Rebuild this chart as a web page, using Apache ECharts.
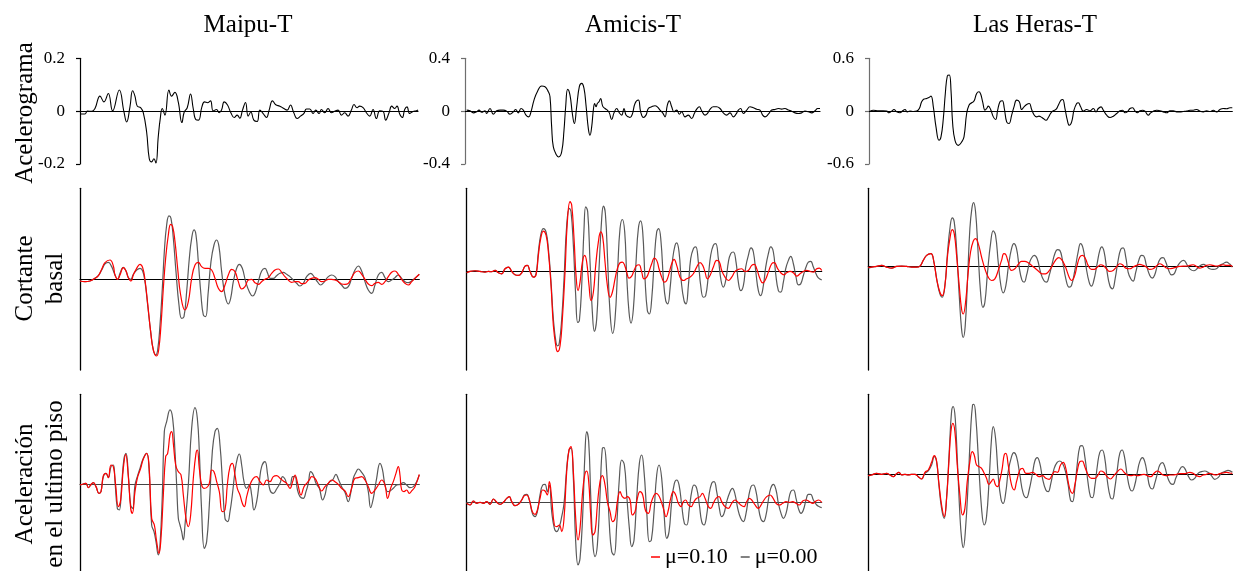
<!DOCTYPE html>
<html>
<head>
<meta charset="utf-8">
<script src="https://cdn.jsdelivr.net/npm/echarts@6/dist/echarts.min.js"></script>
<style>html,body{margin:0;padding:0;background:#fff}#c{width:1233px;height:571px}</style>
</head>
<body>
<div id="c"></div>
<script>
// ---------- DATA (time in arbitrary units) ----------
const stations = ['Maipu-T', 'Amicis-T', 'Las Heras-T'];
const rowNames = ['Acelerograma', 'Cortante\nbasal', 'Aceleración\nen el ultimo piso'];
const seriesNames = ['μ=0.10', 'μ=0.00'];
const accTicks = [0.2, 0.4, 0.6]; // tick label step of each accelerogram panel

// Row 1: accelerograms (g)
const maipuAcc = [[24.3,-0.011],[25.5,-0.011],[26.2,0],[27.5,-0.001],[28.5,0.010],[30.0,0.057],[31.2,0.035],[32.5,0.067],[33.8,0.001],[35.8,0.080],[37.2,-0.003],[38.0,-0.041],[39.0,0.016],[39.8,0.077],[40.5,0.057],[41.2,0.019],[42.2,0.013],[43.0,-0.006],[44.0,-0.078],[44.8,-0.180],[45.5,-0.192],[46.2,-0.180],[46.8,-0.196],[47.5,-0.097],[48.1,-0.028],[48.7,0.010],[49.5,-0.015],[50.7,0.080],[51.5,0.057],[52.5,0.071],[53.5,0.035],[54.6,-0.043],[55.3,-0.003],[56.2,0.013],[57.2,0.065],[58.0,0.010],[58.8,-0.032],[59.6,-0.034],[60.6,0.016],[61.4,0.035],[62.4,0.032],[63.2,0.039],[64.0,0.001],[65.0,0.006],[65.8,-0.006],[66.5,0.004],[67.3,0.035],[68.3,0.023],[69.3,-0.006],[70.3,-0.024],[71.2,-0.015],[72.0,-0.027],[72.8,0.004],[73.7,0.033],[74.5,-0.019],[75.3,-0.003],[76.2,-0.034],[77.2,-0.039],[78.0,0.004],[79.0,-0.009],[80.0,-0.024],[80.8,0.004],[81.8,0.039],[82.8,0.024],[84.0,0.019],[85.2,0.010],[86.2,0.004],[87.2,0.023],[88.2,-0.006],[89.2,-0.028],[90.2,-0.019],[91.2,-0.009],[92.0,0.008],[93.0,0.008],[94.0,-0.009],[94.8,0.004],[95.8,-0.009],[96.5,0.006],[97.5,-0.006],[98.5,0.010],[99.5,-0.006],[100.5,0],[101.5,0.004],[102.5,-0.015],[103.5,-0.006],[104.5,-0.019],[105.5,0.004],[106.3,0.025],[107.2,0.013],[108.0,0.019],[109.0,0.013],[110.0,-0.006],[111.0,-0.019],[112.0,0.006],[113.0,-0.028],[114.0,0.001],[115.0,-0.001],[115.8,-0.034],[116.8,-0.006],[117.6,0.019],[118.5,0.010],[119.2,0.019],[120.0,-0.011],[120.8,-0.024],[121.5,0.006],[122.2,0.016],[123.0,-0.009],[124.0,-0.001],[125.0,0.001],[125.5,0.005]];
const amicisAcc = [[14.0,0.008],[15.0,0.003],[16.0,-0.013],[17.0,-0.005],[17.7,0.008],[18.5,-0.008],[19.5,0.003],[20.0,-0.018],[21.0,0.020],[22.0,-0.023],[23.0,0.003],[24.0,0.008],[25.0,0.008],[26.0,0],[27.0,-0.023],[28.0,-0.005],[28.7,0.013],[29.5,-0.013],[30.3,0.020],[31.0,0.008],[31.8,-0.030],[32.6,-0.043],[33.3,-0.005],[34.2,0.084],[35.2,0.147],[36.5,0.190],[37.5,0.185],[38.5,0.147],[39.0,0.109],[39.5,-0.119],[40.0,-0.271],[41.0,-0.334],[41.6,-0.347],[42.5,-0.309],[43.2,-0.144],[43.7,0.033],[44.3,0.165],[45.0,0.122],[45.7,-0.018],[46.3,-0.094],[47.0,0.033],[47.8,0.185],[48.5,0.210],[49.2,0.172],[49.8,0.046],[50.5,-0.132],[51.0,-0.182],[51.5,-0.119],[52.0,0.008],[52.4,0.058],[52.8,0.033],[53.2,0.058],[53.7,0.071],[54.2,0.096],[54.8,0.038],[55.5,0.020],[56.2,0.008],[56.8,-0.013],[57.5,-0.063],[58.2,-0.013],[59.0,0.020],[59.8,-0.013],[60.5,-0.030],[61.2,0.020],[61.8,-0.030],[62.5,-0.043],[63.0,-0.048],[63.7,-0.023],[64.5,0.058],[65.5,0.084],[66.2,-0.005],[67.0,-0.048],[67.8,-0.030],[68.5,0.020],[69.5,0.033],[70.5,0.041],[71.2,0.033],[72.0,0.008],[72.8,-0.013],[73.5,-0.043],[74.2,0.046],[74.8,0.078],[75.5,0.033],[76.2,-0.005],[77.0,0.008],[77.8,-0.023],[78.5,-0.005],[79.5,-0.043],[80.5,-0.030],[81.5,-0.056],[82.3,-0.018],[83.0,0.015],[83.8,0.033],[84.5,0.003],[85.5,-0.030],[86.2,-0.018],[87.0,0.013],[88.0,0.033],[89.0,0.033],[90.0,0.020],[91.0,-0.013],[92.0,-0.030],[93.0,-0.013],[94.0,-0.043],[94.8,-0.023],[95.5,0.008],[96.2,0.020],[97.0,-0.018],[98.0,0.008],[99.0,0.033],[100.0,0.025],[101.0,0.015],[102.0,0.008],[102.8,-0.030],[103.5,-0.043],[104.5,-0.023],[105.5,0.008],[106.5,0.013],[107.5,0.020],[108.5,0.015],[109.5,0.020],[110.5,0.008],[111.5,0],[112.5,-0.013],[113.5,-0.018],[114.5,-0.013],[115.5,0],[116.5,-0.005],[117.5,-0.013],[118.5,0.003],[119.3,0.020],[120.0,0.020]];
const herasAcc = [[15.0,0],[16.0,0.011],[17.5,0.004],[19.0,0.004],[20.0,0],[20.7,-0.019],[21.5,0],[22.2,0.019],[23.0,-0.008],[24.0,-0.019],[24.8,0.004],[25.5,0.019],[26.2,-0.008],[27.0,0],[28.0,-0.004],[29.0,0],[29.8,0.030],[30.5,0.106],[31.2,0.137],[32.0,0.144],[32.7,0.156],[33.3,0.171],[34.0,0.049],[34.8,-0.179],[35.7,-0.331],[36.3,-0.293],[37.0,-0.084],[37.6,0.201],[38.2,0.399],[38.8,0.410],[39.3,0.239],[39.8,-0.141],[40.5,-0.331],[41.5,-0.388],[42.5,-0.350],[43.2,-0.293],[44.0,-0.027],[44.7,0.068],[45.5,0.095],[46.2,0.114],[47.0,0.201],[47.7,0.220],[48.2,0.194],[48.8,0.106],[49.5,0.011],[50.0,0.030],[50.5,0.057],[51.2,0.019],[52.0,-0.065],[52.7,-0.095],[53.3,0.011],[54.0,0.106],[54.7,0.118],[55.3,0.030],[56.0,-0.122],[56.7,-0.141],[57.5,-0.046],[58.2,0.049],[59.0,0.125],[59.8,0.106],[60.5,0.019],[61.2,0.049],[62.0,0.076],[62.8,0.087],[63.5,0.019],[64.3,-0.046],[65.0,-0.065],[65.7,-0.057],[66.3,-0.065],[67.0,-0.084],[67.8,-0.103],[68.5,-0.072],[69.3,-0.019],[70.0,0.004],[70.8,0.019],[71.5,0.068],[72.3,0.125],[72.8,0.133],[73.5,0.030],[74.2,-0.103],[74.8,-0.160],[75.5,-0.122],[76.2,0.011],[77.0,0.087],[77.5,0.095],[78.2,0.049],[79.0,0],[80.0,0.019],[81.0,0.004],[82.0,0.030],[82.8,-0.008],[83.5,0.030],[84.3,0.049],[85.0,0.011],[86.0,-0.046],[87.0,-0.072],[88.0,-0.057],[89.0,-0.027],[90.0,0.004],[90.8,0.011],[91.5,-0.019],[92.2,-0.008],[93.0,0.030],[93.8,0.038],[94.5,0.004],[95.2,-0.019],[96.0,0.004],[96.8,0.011],[97.5,0],[98.5,-0.046],[99.2,-0.019],[100.0,0],[101.0,0.011],[102.0,0.004],[103.0,-0.008],[104.0,-0.019],[105.0,0.004],[106.0,0.004],[107.0,-0.008],[108.0,-0.008],[109.0,-0.004],[110.0,0],[111.0,0.011],[112.0,0.011],[113.0,0.019],[114.0,0],[115.0,-0.008],[116.0,0.004],[117.0,-0.004],[118.0,0.011],[119.0,-0.008],[120.0,0.019],[121.0,0.030],[122.0,0.027],[123.0,0.038],[123.7,0.038]];

// Row 2: base shear (arbitrary units)  -- *0 = μ=0.00, *1 = μ=0.10
const maipuShear0 = [[24.0,-5],[25.5,-7],[27.0,-5],[28.5,3],[29.5,11],[30.5,28],[31.5,46],[32.5,51],[33.5,38],[34.5,13],[35.3,0],[36.0,18],[37.0,36],[37.8,25],[38.5,5],[39.2,0],[40.0,15],[41.0,28],[42.0,33],[42.8,25],[43.5,-7],[44.3,-77],[45.2,-157],[46.0,-212],[46.7,-227],[47.3,-212],[48.0,-137],[48.7,-27],[49.3,83],[50.0,163],[50.7,190],[51.3,183],[52.0,123],[52.8,23],[53.7,-77],[54.5,-117],[55.2,-112],[56.0,-37],[56.8,63],[57.5,123],[58.2,148],[58.8,133],[59.5,53],[60.3,-47],[61.0,-107],[61.7,-112],[62.4,-47],[63.3,53],[64.2,103],[65.0,118],[65.7,98],[66.5,23],[67.5,-47],[68.5,-74],[69.2,-57],[70.0,-7],[71.0,33],[71.8,45],[72.7,33],[73.7,-7],[74.8,-37],[75.8,-50],[76.5,-42],[77.5,-7],[78.5,25],[79.5,33],[80.3,18],[81.0,3],[82.0,3],[83.0,11],[84.0,18],[85.0,21],[86.0,15],[87.0,8],[88.0,-2],[89.0,-12],[90.0,-20],[91.0,-12],[92.0,8],[93.2,18],[94.2,8],[95.2,-7],[96.2,-17],[97.2,-9],[98.2,5],[99.5,13],[100.5,8],[101.5,-7],[102.5,-17],[103.5,-27],[104.5,-22],[105.5,3],[106.5,28],[107.5,40],[108.5,25],[109.5,-7],[110.5,-32],[111.5,-42],[112.5,-17],[113.5,13],[114.5,21],[115.5,5],[116.5,-7],[117.5,-2],[118.5,5],[119.5,13],[120.5,3],[121.5,-7],[122.5,-10],[123.5,-5],[124.5,3],[125.8,15]];
const maipuShear1 = [[24.0,-5],[25.5,-7],[27.0,-5],[28.5,3],[29.5,11],[30.5,30],[31.5,50],[33.0,58],[34.0,40],[34.5,13],[35.3,0],[36.0,13],[37.0,35],[37.8,25],[38.5,5],[39.3,-5],[40.0,13],[41.0,33],[42.0,45],[42.8,35],[43.5,-2],[44.3,-72],[45.2,-157],[46.0,-212],[47.0,-230],[47.6,-212],[48.3,-137],[49.0,-27],[49.7,63],[50.5,133],[51.2,165],[51.8,158],[52.5,113],[53.3,33],[54.2,-47],[55.5,-92],[56.5,-67],[57.5,3],[58.5,43],[59.5,51],[60.5,38],[61.5,33],[62.5,33],[63.5,28],[64.5,3],[65.5,-27],[66.5,-37],[67.5,-17],[68.5,13],[69.5,30],[70.5,23],[71.5,-7],[72.5,-29],[73.5,-22],[74.5,-2],[75.5,0],[76.5,-10],[77.5,-15],[78.5,-7],[79.5,0],[80.5,5],[81.5,18],[82.5,28],[83.5,31],[84.5,21],[85.5,8],[86.5,-2],[87.5,-9],[88.5,-7],[89.5,-7],[90.5,-13],[91.5,-12],[92.5,-2],[93.5,3],[94.5,5],[95.5,0],[96.5,-7],[97.5,-5],[98.5,0],[99.5,0],[100.5,-2],[101.5,-7],[102.5,-14],[103.5,-15],[104.5,-12],[105.5,5],[106.5,21],[107.5,25],[108.5,15],[109.5,0],[110.5,-14],[111.5,-19],[112.5,-12],[113.5,-9],[114.5,-15],[115.5,-7],[116.5,8],[117.5,21],[118.5,25],[119.5,15],[120.5,0],[121.5,-12],[122.5,-17],[123.5,-7],[124.5,3],[125.8,15]];
const amicisShear0 = [[14.0,-4],[15.0,0],[16.5,2],[18.0,0],[19.5,-2],[20.5,0],[21.5,-1],[22.5,3],[23.5,-4],[24.5,-7],[25.5,8],[26.5,13],[27.5,0],[28.5,-10],[29.5,-12],[30.5,-4],[31.5,16],[32.2,18],[33.0,0],[34.0,-17],[34.8,-7],[35.5,58],[36.2,108],[37.0,128],[37.8,118],[38.5,68],[39.3,-32],[40.0,-142],[40.8,-212],[41.3,-222],[41.8,-212],[42.5,-142],[43.2,-22],[44.0,138],[44.8,188],[45.3,178],[46.0,78],[46.7,-72],[47.3,-152],[47.8,-147],[48.5,-42],[49.2,128],[49.7,193],[50.3,178],[51.0,28],[51.7,-122],[52.3,-179],[53.0,-142],[53.7,8],[54.5,158],[55.0,195],[55.6,173],[56.3,28],[57.0,-122],[57.8,-185],[58.5,-142],[59.3,8],[60.0,128],[60.7,155],[61.4,118],[62.0,-12],[62.7,-122],[63.3,-154],[64.0,-112],[64.8,28],[65.5,128],[66.2,151],[66.8,118],[67.5,-22],[68.2,-117],[68.8,-127],[69.5,-82],[70.3,38],[71.0,118],[71.6,128],[72.3,88],[73.0,-22],[73.7,-87],[74.3,-97],[75.0,-52],[75.8,38],[76.5,78],[77.0,85],[77.7,58],[78.4,-32],[79.2,-87],[79.8,-97],[80.5,-42],[81.2,38],[82.0,68],[82.7,73],[83.5,28],[84.2,-42],[85.0,-77],[85.7,-72],[86.5,-12],[87.2,48],[88.0,78],[88.7,83],[89.5,38],[90.3,-27],[91.0,-47],[91.8,-22],[92.5,28],[93.2,53],[94.0,58],[94.8,28],[95.5,-32],[96.2,-57],[97.0,-42],[97.7,13],[98.5,48],[99.3,70],[100.0,58],[100.8,-7],[101.5,-57],[102.2,-72],[103.0,-42],[103.7,13],[104.5,53],[105.2,73],[106.0,58],[106.7,-7],[107.5,-57],[108.2,-62],[109.0,-32],[109.7,8],[110.5,33],[111.2,45],[112.0,23],[112.8,-17],[113.5,-40],[114.2,-37],[115.0,-12],[115.8,13],[116.5,28],[117.2,30],[118.0,13],[118.8,-7],[119.5,-19],[120.5,-25]];
const amicisShear1 = [[14.0,-4],[15.0,0],[16.5,2],[18.0,0],[19.5,-2],[20.5,0],[21.5,-1],[22.5,3],[23.5,-4],[24.5,-7],[25.5,8],[26.5,13],[27.5,0],[28.5,-10],[29.5,-12],[30.5,-4],[31.5,16],[32.2,18],[33.0,0],[34.0,-17],[34.8,-10],[35.5,48],[36.2,98],[37.0,120],[37.8,108],[38.5,58],[39.3,-42],[40.0,-162],[40.8,-227],[41.3,-239],[42.0,-222],[42.7,-142],[43.5,-2],[44.2,148],[45.0,208],[45.5,198],[46.2,98],[46.8,-12],[47.4,-57],[48.0,-32],[48.7,28],[49.4,48],[50.0,28],[50.7,-42],[51.3,-87],[52.0,-62],[52.7,18],[53.5,88],[54.2,118],[54.8,103],[55.5,28],[56.2,-42],[57.0,-77],[57.7,-62],[58.5,-22],[59.2,8],[60.0,26],[60.7,28],[61.4,18],[62.0,-2],[62.7,-20],[63.5,-14],[64.2,3],[65.0,18],[65.7,20],[66.5,-2],[67.2,-22],[68.0,-17],[68.8,3],[69.5,23],[70.3,40],[71.0,33],[71.7,8],[72.5,-17],[73.3,-32],[74.0,-27],[74.8,-2],[75.5,23],[76.2,36],[77.0,18],[78.0,-17],[79.0,-27],[80.0,-22],[81.0,-17],[82.0,-7],[83.0,13],[84.0,26],[84.8,18],[85.5,-2],[86.2,-22],[87.0,-12],[88.0,13],[89.0,33],[89.8,28],[90.5,3],[91.5,-17],[92.5,-27],[93.5,-17],[94.5,0],[95.5,6],[96.5,8],[97.5,0],[98.5,3],[99.5,18],[100.3,21],[101.0,8],[102.0,-22],[102.8,-34],[103.5,-27],[104.5,-2],[105.5,23],[106.3,26],[107.2,10],[108.2,-4],[109.2,-10],[110.0,-4],[111.0,0],[112.0,-4],[113.0,-14],[114.0,-7],[115.0,0],[116.0,3],[117.0,0],[118.0,-2],[119.0,8],[119.8,10],[120.5,3]];
const herasShear0 = [[14.5,-4],[15.5,-1],[17.0,1],[18.5,4],[20.0,-1],[21.5,-4],[23.0,1],[24.5,2],[26.0,1],[27.5,-1],[29.0,-1],[30.0,2],[31.0,19],[32.0,34],[33.3,39],[34.2,14],[35.2,-46],[36.0,-81],[36.7,-91],[37.5,-56],[38.3,44],[39.0,114],[39.7,146],[40.3,134],[41.0,54],[41.8,-86],[42.5,-186],[43.0,-211],[43.6,-176],[44.3,-36],[45.0,114],[45.6,174],[46.1,191],[46.7,164],[47.4,54],[48.2,-76],[48.9,-121],[49.5,-106],[50.3,-16],[51.2,69],[52.0,107],[52.7,94],[53.5,14],[54.3,-56],[55.0,-78],[55.8,-56],[56.6,4],[57.5,54],[58.2,69],[59.0,54],[59.8,-1],[60.6,-39],[61.3,-46],[62.0,-26],[62.8,9],[63.5,26],[64.3,34],[65.2,24],[66.2,-16],[67.2,-41],[68.0,-46],[68.8,-26],[69.7,9],[70.5,39],[71.3,51],[72.0,49],[72.8,19],[73.8,-36],[74.8,-61],[75.5,-56],[76.5,-11],[77.5,44],[78.2,69],[79.0,54],[79.8,4],[80.8,-46],[81.5,-58],[82.2,-41],[83.2,9],[84.0,49],[84.6,59],[85.3,44],[86.2,-16],[87.0,-56],[87.8,-66],[88.6,-36],[89.5,19],[90.3,52],[91.0,56],[91.8,29],[92.5,-16],[93.3,-36],[94.0,-43],[94.8,-16],[95.7,19],[96.5,34],[97.2,32],[98.0,4],[99.0,-26],[99.8,-34],[100.5,-24],[101.3,4],[102.2,24],[103.0,27],[103.8,14],[104.7,-11],[105.5,-24],[106.3,-21],[107.2,-1],[108.2,14],[109.2,19],[110.2,6],[111.2,-8],[112.2,-12],[113.2,-6],[114.2,4],[115.2,7],[116.0,2],[117.0,-6],[118.0,-8],[119.0,-6],[120.0,4],[121.0,9],[122.0,14],[123.0,8],[123.8,-1]];
const herasShear1 = [[14.5,-2],[15.5,-1],[17.0,1],[18.5,4],[20.0,-1],[21.5,-4],[23.0,1],[24.5,2],[26.0,1],[27.5,-1],[29.0,-1],[30.0,2],[31.0,19],[32.0,34],[33.3,39],[34.2,14],[35.0,-36],[36.0,-76],[36.7,-86],[37.5,-56],[38.3,34],[39.0,84],[39.7,111],[40.3,99],[41.0,34],[41.8,-56],[42.5,-126],[43.0,-141],[43.7,-106],[44.5,-16],[45.2,44],[46.0,76],[46.7,84],[47.5,69],[48.5,29],[49.5,-6],[50.5,-31],[51.5,-41],[52.5,-36],[53.5,-11],[54.5,19],[55.2,39],[55.8,36],[56.5,14],[57.5,-11],[58.5,-6],[59.5,7],[60.5,16],[61.5,16],[62.5,12],[63.5,4],[64.5,-4],[65.7,-14],[66.7,-21],[67.7,-21],[68.7,-13],[69.7,2],[70.7,19],[71.7,27],[72.7,19],[73.7,-1],[74.8,-31],[75.5,-41],[76.3,-31],[77.2,4],[78.0,29],[78.8,34],[79.7,24],[80.5,4],[81.5,-8],[82.3,-8],[83.3,-1],[84.3,6],[85.0,4],[86.0,-6],[87.0,-14],[88.0,-11],[89.0,-1],[90.0,9],[90.8,6],[91.8,-4],[93.0,-6],[94.0,-1],[95.0,4],[96.0,7],[97.0,4],[98.0,-1],[99.0,-8],[100.0,-6],[101.0,2],[102.0,9],[103.0,4],[104.0,-4],[105.0,-6],[106.0,-4],[107.0,-1],[108.0,1],[109.0,2],[110.0,2],[111.0,4],[112.0,6],[113.0,1],[114.0,-4],[115.0,-1],[116.0,4],[117.0,6],[118.0,4],[119.0,2],[120.0,4],[121.0,6],[122.0,4],[123.0,4],[123.8,1]];

// Row 3: top floor acceleration (arbitrary units)
const maipuTop0 = [[24.0,-2],[25.0,1],[25.8,3],[26.5,-10],[27.2,-2],[28.0,5],[28.8,-7],[29.7,-27],[30.3,-22],[31.0,23],[31.8,33],[32.5,20],[33.3,53],[34.0,58],[34.5,8],[35.2,-72],[35.8,-77],[36.5,-2],[37.2,78],[37.8,93],[38.5,28],[39.2,-62],[39.8,-72],[40.5,-2],[41.2,23],[42.0,48],[43.0,78],[44.0,93],[44.7,48],[45.5,-122],[46.2,-142],[46.8,-172],[47.5,-212],[48.0,-182],[48.7,-32],[49.3,158],[50.0,188],[51.0,223],[51.8,198],[52.5,98],[53.0,-2],[53.5,-102],[54.0,-122],[54.5,-142],[55.0,-167],[55.5,-122],[56.5,-2],[57.5,168],[58.5,230],[59.2,198],[59.8,98],[60.5,-82],[61.3,-192],[62.0,-172],[62.8,-62],[63.7,98],[64.5,158],[65.2,168],[66.0,118],[66.8,-2],[67.5,-102],[68.3,-112],[69.0,-82],[69.7,-32],[70.5,38],[71.2,78],[71.8,91],[72.5,58],[73.2,8],[74.0,-12],[74.8,-2],[75.5,-32],[76.2,-77],[77.0,-52],[77.8,8],[78.5,53],[79.5,68],[80.3,28],[81.0,-17],[82.0,-27],[83.0,-14],[84.0,3],[84.8,23],[85.5,16],[86.3,-2],[87.0,-2],[87.8,23],[88.5,23],[89.2,-14],[90.0,-37],[91.0,-42],[91.8,-22],[92.5,3],[93.2,38],[94.0,28],[94.8,3],[95.8,-12],[96.8,-47],[97.5,-32],[98.2,-2],[99.0,8],[99.8,13],[100.8,30],[101.5,16],[102.5,-7],[103.5,-24],[104.5,-52],[105.2,-27],[106.0,18],[106.8,36],[107.5,46],[108.5,36],[109.5,20],[110.5,-22],[111.2,-70],[112.0,-42],[113.0,18],[114.0,63],[114.7,46],[115.5,-2],[116.3,-22],[117.0,-20],[118.0,-12],[119.0,-2],[120.0,0],[121.0,5],[122.0,-2],[123.0,-10],[124.0,-7],[125.0,8],[125.8,28]];
const maipuTop1 = [[24.0,-2],[25.0,1],[25.8,3],[26.5,-10],[27.2,-2],[28.0,5],[28.8,-7],[29.7,-27],[30.3,-22],[31.0,26],[31.8,33],[32.5,20],[33.3,58],[34.0,53],[34.7,-2],[35.5,-67],[36.2,-47],[37.0,48],[37.7,90],[38.5,23],[39.2,-72],[39.7,-87],[40.5,-22],[41.2,18],[42.2,48],[43.0,76],[44.0,93],[44.7,58],[45.5,-102],[46.3,-122],[47.0,-172],[47.7,-207],[48.3,-162],[49.0,-32],[49.7,83],[50.3,93],[51.0,148],[51.5,158],[52.0,123],[52.7,58],[53.5,38],[54.3,28],[55.0,-32],[55.8,-102],[56.5,-127],[57.2,-92],[58.0,18],[58.8,93],[59.2,103],[59.8,48],[60.5,-2],[61.2,-12],[62.0,-10],[62.8,3],[63.5,43],[64.2,38],[65.0,8],[65.8,-22],[66.7,-82],[67.5,-77],[68.2,-2],[69.0,53],[69.7,63],[70.5,28],[71.2,-12],[72.0,-32],[72.7,-57],[73.3,-67],[74.0,-37],[75.0,-2],[76.0,18],[77.0,23],[78.0,8],[79.0,-2],[80.0,13],[81.0,8],[82.0,23],[83.0,26],[84.0,18],[85.0,10],[86.0,3],[87.0,-12],[87.8,8],[88.5,28],[89.3,3],[90.3,-32],[91.2,-7],[92.0,3],[92.8,13],[93.5,23],[94.5,18],[95.5,-2],[96.5,-20],[97.5,-7],[98.5,3],[99.5,13],[100.5,8],[101.5,0],[102.5,-12],[103.5,-20],[104.5,-37],[105.5,-12],[106.5,18],[107.5,20],[108.5,23],[109.5,13],[110.5,-7],[111.5,-27],[112.5,-17],[113.5,-2],[114.5,13],[115.5,-2],[116.3,-42],[117.2,-12],[118.0,8],[118.8,33],[119.5,53],[120.0,28],[120.5,-17],[121.2,-22],[122.0,-17],[122.8,-27],[123.5,-20],[124.5,-7],[125.8,30]];
const amicisTop0 = [[14.0,-3],[15.0,-8],[16.0,4],[17.0,-3],[18.0,0],[19.0,-3],[20.0,2],[21.0,-6],[22.0,10],[23.0,0],[24.0,-6],[25.0,0],[26.0,12],[26.8,17],[27.5,2],[28.5,-10],[29.5,-6],[30.5,7],[31.3,22],[32.0,24],[32.8,7],[33.7,-33],[34.5,-43],[35.2,-28],[36.0,22],[36.8,52],[37.5,54],[38.2,32],[38.8,52],[39.5,-28],[40.3,-78],[41.0,-88],[41.8,-73],[42.5,-43],[43.2,-3],[44.0,102],[44.7,157],[45.3,162],[46.0,72],[46.7,-118],[47.4,-188],[48.0,-168],[48.8,-38],[49.5,152],[50.0,212],[50.6,182],[51.2,22],[51.8,-118],[52.5,-163],[53.2,-128],[54.0,22],[54.7,162],[55.2,164],[56.0,92],[56.8,-68],[57.5,-148],[58.2,-158],[59.0,-68],[59.8,72],[60.5,127],[61.3,112],[62.0,22],[62.8,-78],[63.5,-133],[64.2,-113],[65.0,12],[65.8,117],[66.5,142],[67.2,92],[68.0,-28],[68.8,-118],[69.4,-113],[70.2,-28],[71.0,82],[71.7,112],[72.5,72],[73.3,-48],[74.0,-108],[74.7,-88],[75.5,2],[76.3,57],[77.0,67],[77.7,52],[78.5,-8],[79.3,-63],[80.0,-68],[80.8,-18],[81.5,32],[82.2,52],[83.0,42],[83.8,-8],[84.5,-58],[85.2,-68],[86.0,-38],[86.7,22],[87.5,57],[88.2,62],[89.0,32],[89.8,-18],[90.5,-43],[91.2,-33],[92.0,2],[93.0,32],[93.7,42],[94.5,24],[95.3,-18],[96.2,-48],[97.0,-58],[97.8,-33],[98.5,12],[99.3,47],[100.0,52],[100.8,32],[101.5,-13],[102.2,-48],[103.0,-58],[103.8,-38],[104.5,7],[105.2,42],[106.0,54],[106.8,37],[107.5,-3],[108.3,-33],[109.0,-48],[109.8,-33],[110.5,2],[111.2,32],[112.0,37],[112.8,12],[113.5,-18],[114.3,-33],[115.0,-23],[115.8,7],[116.5,24],[117.2,24],[118.0,7],[119.0,-8],[119.8,-13],[120.5,-16]];
const amicisTop1 = [[14.0,-3],[15.0,-8],[16.0,4],[17.0,-3],[18.0,0],[19.0,-3],[20.0,2],[21.0,-6],[22.0,10],[23.0,0],[24.0,-6],[25.0,0],[26.0,12],[26.8,17],[27.5,2],[28.5,-10],[29.5,-6],[30.5,7],[31.3,20],[32.0,22],[32.8,7],[33.7,-28],[34.5,-36],[35.2,-23],[36.0,12],[36.8,37],[37.5,34],[38.2,22],[38.8,62],[39.5,12],[40.3,-68],[41.0,-73],[41.8,-68],[42.5,-88],[43.2,-48],[44.0,92],[44.7,157],[45.3,167],[46.0,92],[46.7,-48],[47.4,-113],[48.0,-78],[48.7,22],[49.4,82],[50.0,94],[50.6,62],[51.2,-38],[51.8,-98],[52.5,-88],[53.2,-8],[54.0,62],[54.7,80],[55.5,52],[56.2,2],[57.0,-28],[57.8,-58],[58.5,-48],[59.2,2],[60.0,32],[60.7,17],[61.5,12],[62.2,17],[63.0,7],[63.7,-38],[64.5,-28],[65.2,12],[66.0,32],[66.8,22],[67.6,-23],[68.5,-33],[69.3,-3],[70.0,17],[70.8,27],[71.5,22],[72.2,7],[73.0,-18],[73.8,-43],[74.5,-23],[75.2,12],[76.0,32],[76.7,22],[77.5,-3],[78.3,-13],[79.0,2],[79.7,7],[80.5,-8],[81.3,-13],[82.2,2],[83.0,12],[84.0,17],[84.7,27],[85.5,12],[86.5,-13],[87.2,-18],[88.0,-3],[88.8,12],[89.7,17],[90.5,2],[91.5,-13],[92.5,-18],[93.5,-3],[94.5,7],[95.2,2],[96.2,-8],[97.2,-13],[98.0,2],[98.8,12],[99.5,7],[100.5,-8],[101.5,-18],[102.2,-10],[103.0,4],[104.0,17],[105.0,22],[105.8,14],[106.8,-3],[107.8,-8],[108.8,-3],[109.8,2],[110.8,0],[111.8,2],[112.8,-3],[113.8,-8],[114.8,4],[115.8,7],[116.8,2],[117.8,-3],[118.8,4],[119.6,7],[120.5,0]];
const herasTop0 = [[14.5,-4],[15.5,-2],[17.0,3],[18.5,0],[20.0,3],[21.0,-2],[22.0,-7],[22.8,0],[23.7,6],[24.5,-2],[25.5,0],[26.5,-2],[27.5,0],[28.5,0],[29.5,-7],[30.5,-14],[31.5,3],[32.5,10],[33.5,28],[34.3,53],[35.0,38],[35.7,-32],[36.5,-102],[37.3,-132],[38.0,-72],[38.8,68],[39.5,188],[40.0,203],[40.6,168],[41.3,28],[42.0,-122],[42.5,-192],[43.0,-220],[43.7,-162],[44.5,-22],[45.2,128],[45.8,208],[46.2,210],[46.8,168],[47.6,38],[48.5,-102],[49.3,-152],[50.0,-127],[50.8,-12],[51.5,108],[52.0,143],[52.7,108],[53.5,-2],[54.3,-72],[55.0,-87],[55.8,-52],[56.5,8],[57.5,53],[58.2,65],[59.0,53],[60.0,-2],[61.0,-57],[62.0,-70],[62.8,-47],[63.8,3],[64.5,40],[65.2,50],[66.0,33],[66.8,-12],[67.8,-47],[68.5,-52],[69.3,-27],[70.3,18],[71.2,36],[72.0,40],[72.8,33],[73.7,8],[74.5,-32],[75.2,-77],[75.8,-82],[76.5,-42],[77.2,28],[78.0,83],[78.7,86],[79.5,53],[80.5,-27],[81.2,-67],[81.8,-70],[82.5,-37],[83.3,28],[84.0,66],[84.7,73],[85.5,48],[86.3,-22],[87.2,-70],[87.8,-74],[88.5,-42],[89.3,18],[90.0,63],[90.7,73],[91.4,53],[92.2,-2],[93.0,-42],[93.7,-50],[94.5,-32],[95.3,8],[96.0,38],[96.8,50],[97.5,38],[98.3,-2],[99.0,-37],[99.8,-44],[100.5,-27],[101.3,3],[102.0,28],[102.8,35],[103.5,23],[104.3,-7],[105.2,-27],[106.0,-30],[106.8,-12],[107.8,10],[108.8,23],[109.5,18],[110.5,-4],[111.5,-17],[112.5,-12],[113.5,3],[114.5,8],[115.5,10],[116.5,6],[117.5,-4],[118.5,-15],[119.5,-10],[120.5,3],[121.5,8],[122.5,12],[123.8,6]];
const herasTop1 = [[14.5,-4],[15.5,-2],[17.0,3],[18.5,0],[20.0,3],[21.0,-2],[22.0,-7],[22.8,0],[23.7,6],[24.5,-2],[25.5,0],[26.5,-2],[27.5,0],[28.5,0],[29.5,-7],[30.5,-14],[31.5,6],[32.5,13],[33.5,36],[34.3,56],[35.0,40],[35.7,-27],[36.5,-92],[37.3,-127],[38.0,-72],[38.7,38],[39.3,128],[39.9,153],[40.5,128],[41.2,28],[42.0,-62],[42.8,-122],[43.5,-102],[44.2,-22],[45.0,38],[45.7,68],[46.3,58],[47.0,28],[47.8,23],[48.5,18],[49.3,3],[50.0,-12],[50.7,-30],[51.4,-22],[52.0,-14],[52.7,-32],[53.3,-37],[54.0,-17],[54.7,18],[55.3,58],[55.8,63],[56.5,28],[57.5,-32],[58.3,-47],[59.0,-22],[60.0,13],[60.8,18],[61.8,3],[62.8,3],[63.8,6],[64.8,0],[65.8,-7],[66.8,-4],[67.8,-12],[68.8,-15],[69.7,-2],[70.5,8],[71.3,6],[72.2,28],[73.0,36],[73.8,18],[74.5,-22],[75.2,-50],[75.8,-57],[76.5,-32],[77.3,13],[78.0,38],[78.7,40],[79.5,23],[80.5,-2],[81.5,-12],[82.5,-12],[83.5,-2],[84.3,10],[85.2,6],[86.2,-7],[87.2,-14],[88.2,-4],[89.3,8],[90.3,16],[91.3,6],[92.3,-2],[93.3,-4],[94.3,-2],[95.3,-4],[96.3,-2],[97.3,0],[98.3,-4],[99.3,-7],[100.3,3],[101.3,10],[102.0,6],[103.0,-2],[104.0,-4],[105.0,-2],[106.0,-2],[107.0,0],[108.0,2],[109.0,2],[110.0,3],[111.0,6],[112.0,3],[113.0,-4],[114.0,-7],[115.0,-2],[116.0,0],[117.0,3],[118.0,0],[119.0,-2],[120.0,2],[121.0,4],[122.0,6],[123.0,4],[123.8,3]];

// ---------- LAYOUT ----------
const FONT = '"Liberation Serif", "DejaVu Serif", serif';
const rowTop = [58.3, 188.3, 394.3];
const rowH = [105.7, 181.7, 176.7];
const colBox = [ // [left, width] for row 1, rows 2-3
  [[80, 338], [465, 355], [869, 363.3]],
  [[80, 339.3], [466.7, 355], [868.3, 364.4]]
];
const xRange = [
  [[24.0, 125.5], [13.5, 120.0], [14.7, 123.7]],
  [[24.0, 125.8], [14.0, 120.5], [14.5, 123.9]]
];
const yRange = [
  null,
  [[-272, 273], [-294, 248], [-308, 234]],
  [[-260, 270], [-206, 324], [-290, 240]]
];
const accData = [maipuAcc, amicisAcc, herasAcc];
const shear = [[maipuShear1, maipuShear0], [amicisShear1, amicisShear0], [herasShear1, herasShear0]];
const topAcc = [[maipuTop1, maipuTop0], [amicisTop1, amicisTop0], [herasTop1, herasTop0]];

const RED = '#ff0000', GREY = '#595959';
const SMOOTH = 0.45;
const grid = [], xAxis = [], yAxis = [], series = [];
let gi = 0;
for (let r = 0; r < 3; r++) {
  for (let c = 0; c < 3; c++) {
    const box = colBox[r === 0 ? 0 : 1][c];
    const xr = xRange[r === 0 ? 0 : 1][c];
    grid.push({ left: box[0], top: rowTop[r], width: box[1], height: rowH[r], containLabel: false });
    xAxis.push({
      gridIndex: gi, type: 'value', min: xr[0], max: xr[1],
      axisLine: { show: true, onZero: true, lineStyle: { color: (r === 2 && c < 2) ? '#444' : '#000', width: 1.2 } },
      axisTick: { show: false }, axisLabel: { show: false }, splitLine: { show: false }
    });
    if (r === 0) {
      const s = accTicks[c];
      yAxis.push({
        gridIndex: gi, type: 'value', min: -s, max: s, interval: s,
        axisLine: { show: true, lineStyle: { color: c === 0 ? '#000' : '#6e6e6e', width: 1.2 } },
        axisTick: { show: true, length: 4, lineStyle: { color: c === 0 ? '#000' : '#6e6e6e', width: 1.2 } },
        axisLabel: { show: true, margin: 15, color: '#000', fontFamily: FONT, fontSize: 17 },
        splitLine: { show: false }
      });
      series.push({
        type: 'line', xAxisIndex: gi, yAxisIndex: gi, data: accData[c],
        showSymbol: false, smooth: SMOOTH, silent: true,
        lineStyle: { color: '#000', width: 1.1 }, itemStyle: { color: '#000' }
      });
    } else {
      const yr = yRange[r][c];
      yAxis.push({
        gridIndex: gi, type: 'value', min: yr[0], max: yr[1],
        axisLine: { show: true, lineStyle: { color: '#000', width: 1.3 } },
        axisTick: { show: false }, axisLabel: { show: false }, splitLine: { show: false }
      });
      const pair = r === 1 ? shear[c] : topAcc[c];
      series.push({
        name: seriesNames[1], type: 'line', xAxisIndex: gi, yAxisIndex: gi, data: pair[1],
        showSymbol: false, smooth: SMOOTH, silent: true, color: GREY,
        lineStyle: { color: GREY, width: 1.2 }
      });
      series.push({
        name: seriesNames[0], type: 'line', xAxisIndex: gi, yAxisIndex: gi, data: pair[0],
        showSymbol: false, smooth: SMOOTH, silent: true, color: RED,
        lineStyle: { color: RED, width: 1.2 }
      });
    }
    gi++;
  }
}

const titleX = [248, 633, 1035];
const graphic = [];
stations.forEach((s, i) => graphic.push({
  type: 'text', x: titleX[i], y: 25, silent: true,
  style: { text: s, fill: '#000', fontFamily: FONT, fontSize: 25, align: 'center', verticalAlign: 'middle' }
}));
const labelPos = [[25, 113], [40.5, 278.5], [40, 484]];
rowNames.forEach((t, i) => graphic.push({
  type: 'text', x: labelPos[i][0], y: labelPos[i][1], rotation: Math.PI / 2, silent: true,
  style: { text: t, fill: '#000', fontFamily: FONT, fontSize: 25, lineHeight: 30, align: 'center', verticalAlign: 'middle' }
}));

const chart = echarts.init(document.getElementById('c'), null, { renderer: 'canvas' });
chart.setOption({
  animation: false,
  backgroundColor: '#fff',
  grid, xAxis, yAxis, series, graphic,
  legend: {
    data: seriesNames, left: 651, top: 546, padding: 0,
    icon: 'rect', itemWidth: 9, itemHeight: 1.5, itemGap: 13,
    textStyle: { fontFamily: FONT, fontSize: 22, color: '#000' },
    selectedMode: false
  }
});
</script>
</body>
</html>
